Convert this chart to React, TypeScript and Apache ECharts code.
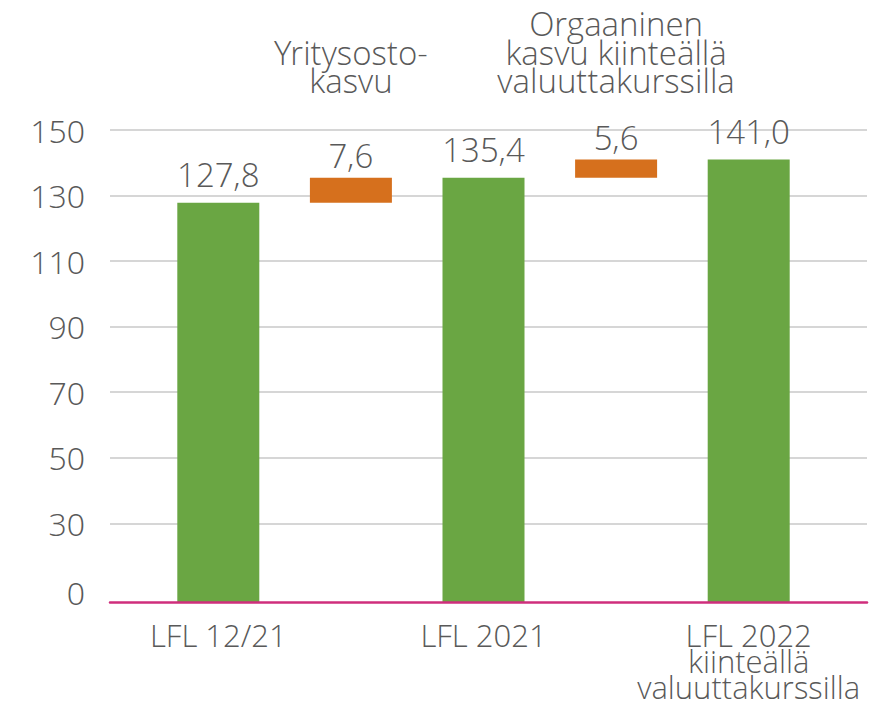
import React, { useEffect, useRef } from 'react';
import * as echarts from 'echarts';

// ---- data ----
const categories = ['LFL 12/21', '', 'LFL 2021', '', 'LFL 2022\nkiinteällä\nvaluuttakurssilla'];
const stepLabels = ['', 'Yritysosto-\nkasvu', '', 'Orgaaninen\nkasvu kiinteällä\nvaluuttakurssilla', ''];
const totals: (number | string)[] = [127.8, '-', 135.4, '-', 141.0];
const increments: (number | string)[] = ['-', 7.6, '-', 5.6, '-'];
const yTickValues = [30, 50, 70, 90, 110, 130, 150];
const yZeroLabelValue = 9; // broken axis: the "0" label sits just above the axis line
const yMin = 6;
const yMax = 150;

// invisible bases of the floating increment bars = previous total
const bases = increments.map((v, i) => (typeof v === 'number' ? totals[i - 1] : '-'));

const FONT = '"Open Sans Light", "Open Sans", "Noto Sans", sans-serif';
const TEXT = '#595959';
const GREEN = '#6aa643';
const ORANGE = '#d6701d';
const MAGENTA = '#cf2e7c';
const GRID = '#d6d6d6';

const fmt = (p: any) => (typeof p.value === 'number' ? p.value.toFixed(1).replace('.', ',') : '');

export default function App() {
  const ref = useRef<HTMLDivElement>(null);
  useEffect(() => {
    if (!ref.current) return;
    const chart = echarts.init(ref.current, undefined, { renderer: 'svg' });
    const labelStyle = {
      show: true,
      position: 'top' as const,
      fontFamily: FONT,
      fontWeight: 300,
      fontSize: 33,
      color: TEXT,
      formatter: fmt,
    };
    chart.setOption({
      animation: false,
      textStyle: { fontFamily: FONT },
      grid: [
        { left: 110, right: 18, top: 130, bottom: 111, outerBoundsMode: 'none' },
        { left: 152, right: 70, top: 130, bottom: 111, outerBoundsMode: 'none' },
      ],
      xAxis: [
        {
          gridIndex: 0,
          type: 'category',
          data: [''],
          z: 5,
          axisLine: { show: true, lineStyle: { color: MAGENTA, width: 2.5 } },
          axisTick: { show: false },
          axisLabel: { show: false },
          splitLine: { show: false },
        },
        {
          gridIndex: 1,
          type: 'category',
          data: categories,
          axisLine: { show: false },
          axisTick: { show: false },
          axisLabel: {
            interval: 0,
            margin: 20,
            fontFamily: FONT,
            fontWeight: 300,
            fontSize: 31,
            lineHeight: 26,
            color: TEXT,
          },
        },
        {
          gridIndex: 1,
          type: 'category',
          position: 'top',
          data: stepLabels,
          axisLine: { show: false },
          axisTick: { show: false },
          axisLabel: {
            interval: 0,
            margin: 35,
            fontFamily: FONT,
            fontWeight: 300,
            fontSize: 33,
            lineHeight: 28.5,
            color: TEXT,
          },
        },
      ],
      yAxis: [
        {
          gridIndex: 0,
          type: 'value',
          min: yMin,
          max: yMax,
          axisLine: { show: false },
          axisTick: { show: false, customValues: yTickValues },
          splitLine: { show: true, lineStyle: { color: GRID, width: 2 } },
          axisLabel: {
            customValues: [yZeroLabelValue, ...yTickValues],
            margin: 25,
            fontFamily: FONT,
            fontWeight: 300,
            fontSize: 32,
            color: TEXT,
            formatter: (v: number) => (v === yZeroLabelValue ? '0' : String(v)),
          },
        },
        {
          gridIndex: 1,
          type: 'value',
          min: yMin,
          max: yMax,
          show: false,
          splitLine: { show: false },
        },
      ],
      series: [
        {
          name: 'LFL',
          type: 'bar',
          xAxisIndex: 1,
          yAxisIndex: 1,
          data: totals,
          barWidth: 82,
          barGap: '-100%',
          itemStyle: { color: GREEN },
          label: { ...labelStyle, distance: 12 },
        },
        {
          name: 'base',
          type: 'bar',
          xAxisIndex: 1,
          yAxisIndex: 1,
          stack: 'w',
          data: bases,
          barWidth: 82,
          barGap: '-100%',
          silent: true,
          itemStyle: { color: 'rgba(0,0,0,0)' },
        },
        {
          name: 'kasvu',
          type: 'bar',
          xAxisIndex: 1,
          yAxisIndex: 1,
          stack: 'w',
          data: increments,
          barWidth: 82,
          barGap: '-100%',
          itemStyle: { color: ORANGE },
          label: { ...labelStyle, distance: 6 },
        },
      ],
    });
    return () => chart.dispose();
  }, []);
  return (
    <div
      ref={ref}
      style={{ position: 'fixed', left: 0, top: 0, width: 885, height: 713, background: '#fff' }}
    />
  );
}
